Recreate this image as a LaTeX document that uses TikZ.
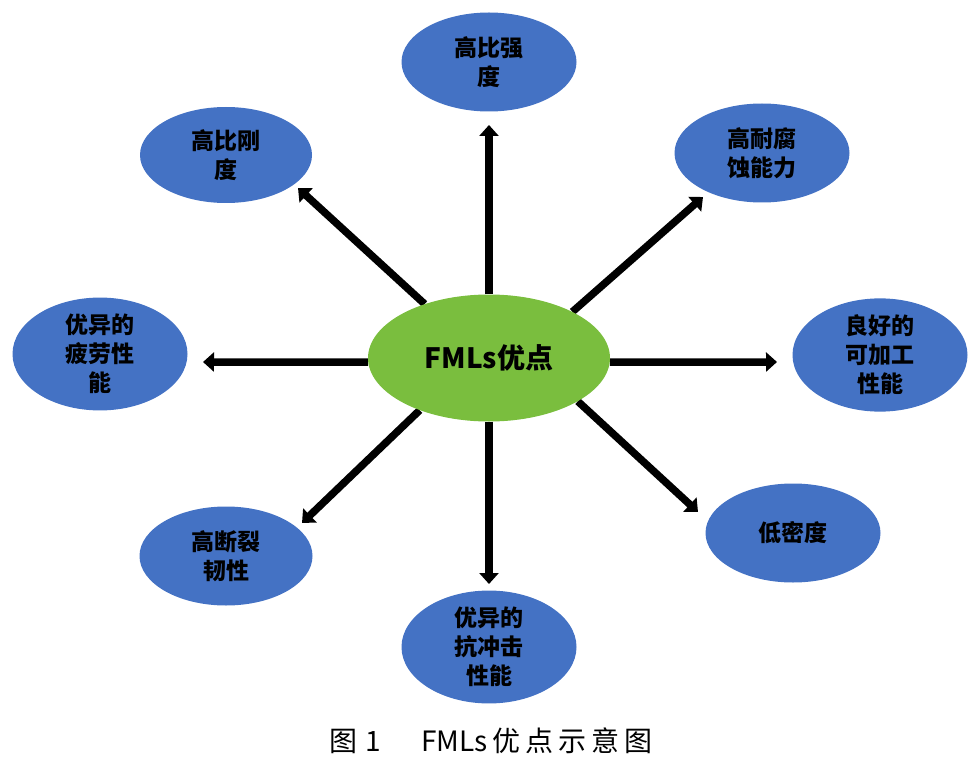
\documentclass[tikz,border=0pt]{standalone}
\usepackage{fontspec}
\newfontfamily\cjk{Noto Sans CJK SC}
\usetikzlibrary{arrows.meta,shapes.geometric,backgrounds}
\definecolor{bluefill}{RGB}{68,114,196}
\definecolor{greenfill}{RGB}{122,190,62}
\tikzset{
  prop/.style={ellipse,fill=bluefill,inner sep=0pt,minimum width=175pt,minimum height=99pt,
    align=center,font=\cjk\bfseries\fontsize{23}{29}\selectfont,text=black},
  hub/.style={ellipse,fill=greenfill,inner sep=0pt,minimum width=242pt,minimum height=127pt,
    font=\cjk\bfseries\fontsize{28}{30}\selectfont,text=black},
  arr/.style={line width=7.5pt,-{Triangle[length=11pt,width=19pt]}},
}
\begin{document}
\begin{tikzpicture}[x=1pt,y=-1pt]
\useasboundingbox (0,0) rectangle (974,767);
\node[hub] (c) at (489,358) {FMLs优点};
\node[prop] (t1) at (489,62) {高比强\\度};
\node[prop,minimum width=172pt,minimum height=96pt] (t2) at (226,155) {高比刚\\度};
\node[prop] (t3) at (762,153) {高耐腐\\蚀能力};
\node[prop] (t4) at (100,354) {优异的\\疲劳性\\能};
\node[prop,minimum height=96pt] (t5) at (880,355) {良好的\\可加工\\性能};
\node[prop,minimum width=173pt] (t6) at (226,556) {高断裂\\韧性};
\node[prop] (t7) at (489,647) {优异的\\抗冲击\\性能};
\node[prop] (t8) at (793,533) {低密度};
% arrow tips (free ends, just short of each property ellipse)
\coordinate (e1) at (489,125);
\coordinate (e2) at (298,188);
\coordinate (e3) at (703,197);
\coordinate (e4) at (203,362);
\coordinate (e5) at (777,362);
\coordinate (e6) at (302,523);
\coordinate (e7) at (489,584);
\coordinate (e8) at (698,512);
\begin{scope}[on background layer]
\draw[arr] (c.north) -- (e1);
\draw[arr] (c.140) -- (e2);
\draw[arr] (c.29) -- (e3);
\draw[arr] (c.182) -- (e4);
\draw[arr] (c.358) -- (e5);
\draw[arr] (c.217) -- (e6);
\draw[arr] (c.south) -- (e7);
\draw[arr] (c.334) -- (e8);
\end{scope}
\node[font=\cjk\fontsize{28}{32}\selectfont] (cap) at (491,741)
  {图\hspace{8pt}1\hspace{40pt}FMLs\hspace{4pt}优\hspace{5pt}点\hspace{5pt}示\hspace{5pt}意\hspace{5pt}图};
\end{tikzpicture}
\end{document}
